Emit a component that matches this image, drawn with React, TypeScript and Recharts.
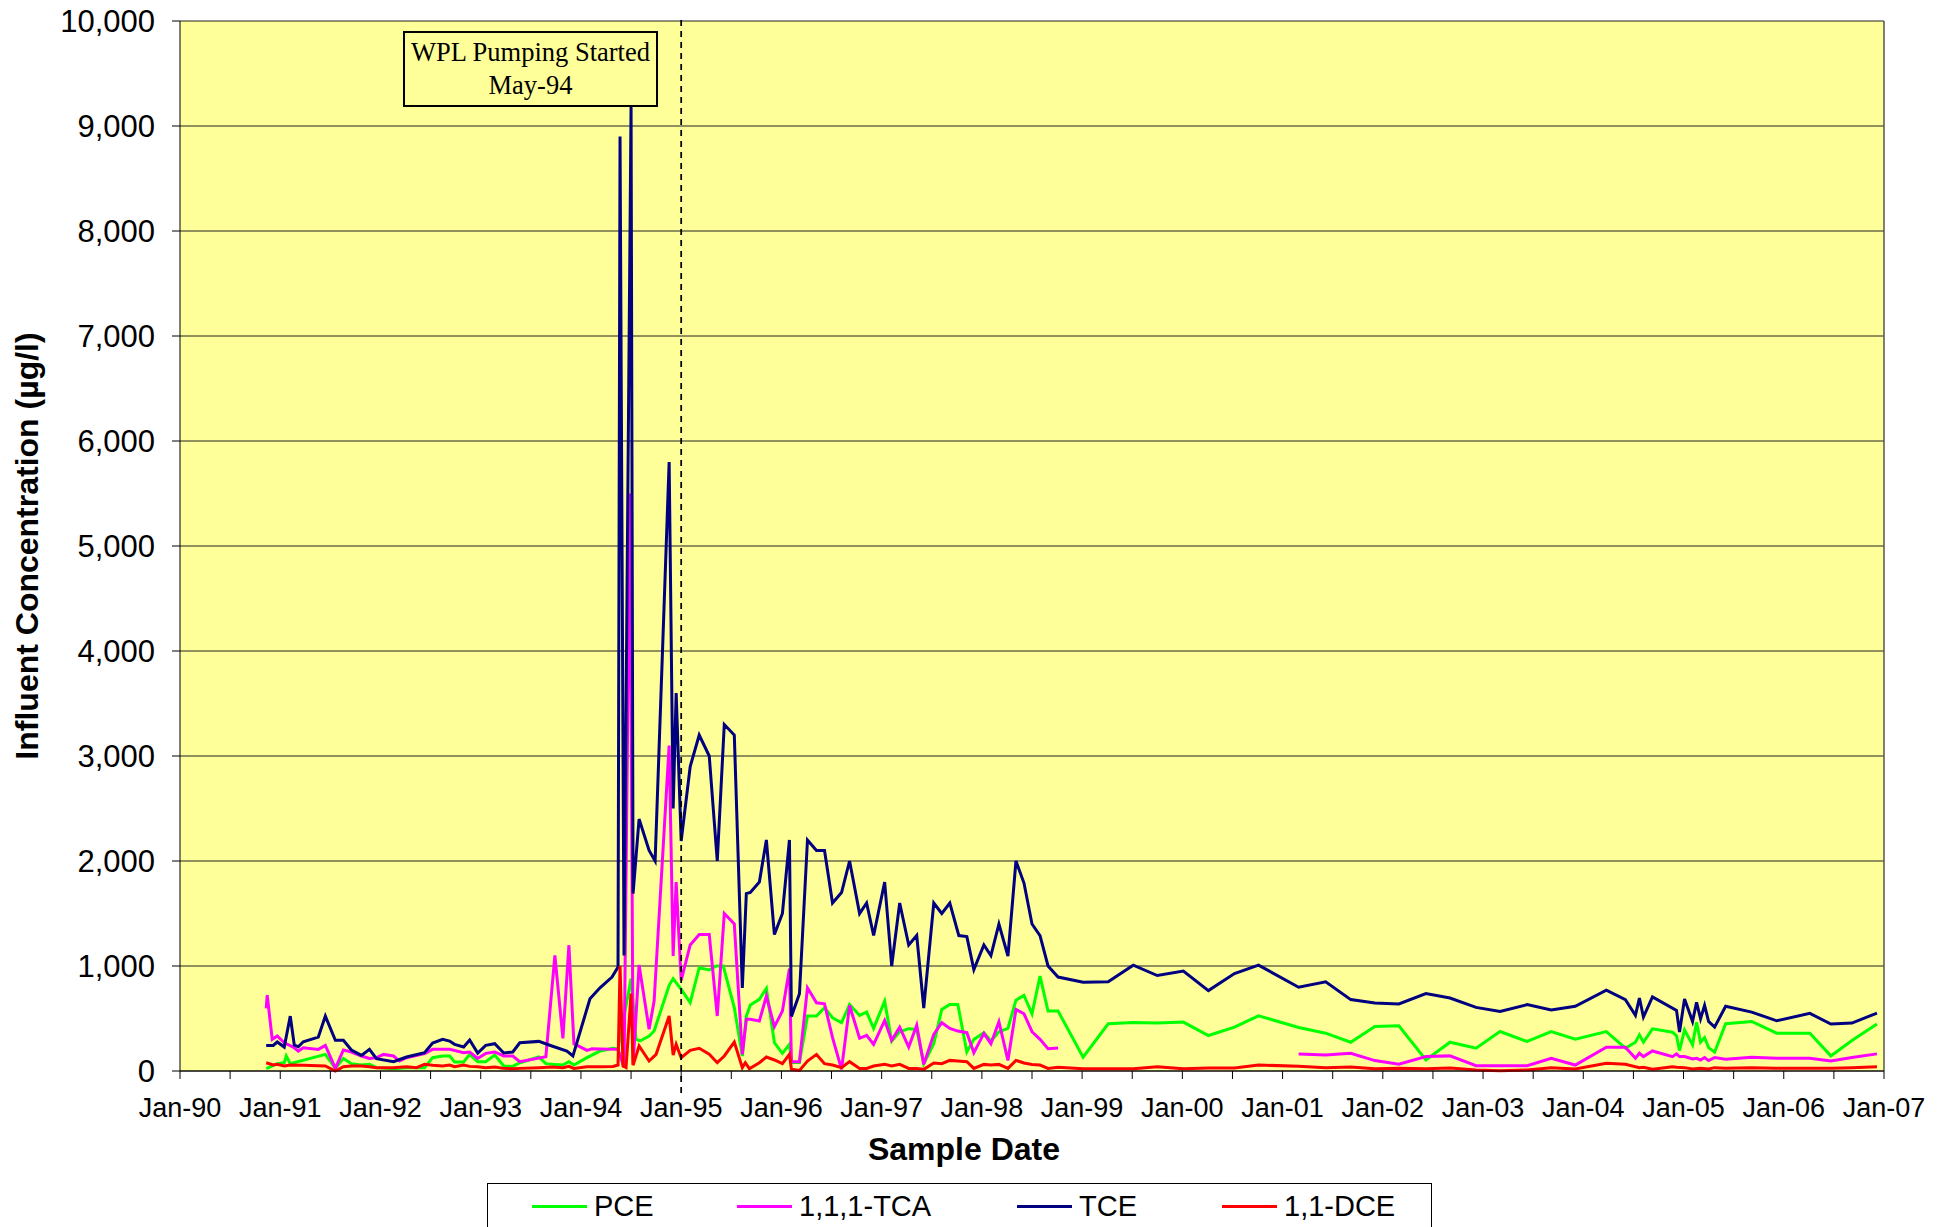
import React from 'react';
import { LineChart, Line, XAxis, YAxis, CartesianGrid, ReferenceLine, Label } from 'recharts';

// sample dates are decimal years, values in µg/l
const PCE: [number, number][] = [
  [1990.86, 22], [1990.97, 70], [1991.04, 79], [1991.06, 143], [1991.1, 70], [1991.45, 158],
  [1991.55, 25], [1991.63, 120], [1991.71, 70], [1991.81, 57], [1991.89, 63], [1991.96, 32],
  [1992.13, 22], [1992.26, 32], [1992.44, 32], [1992.52, 127], [1992.62, 143], [1992.69, 143],
  [1992.74, 86], [1992.83, 86], [1992.89, 158], [1992.97, 89], [1993.05, 89], [1993.14, 152],
  [1993.23, 48], [1993.32, 44], [1993.39, 79], [1993.58, 133], [1993.65, 70], [1993.74, 63],
  [1993.82, 57], [1993.88, 89], [1993.93, 57], [1994.06, 127], [1994.19, 190], [1994.32, 216],
  [1994.37, 210], [1994.5, 880], [1994.55, 300], [1994.59, 286], [1994.68, 333], [1994.73, 381],
  [1994.88, 816], [1994.92, 880], [1995.0, 778], [1995.09, 651], [1995.18, 984], [1995.28, 962],
  [1995.35, 1000], [1995.42, 1000], [1995.53, 603], [1995.61, 143], [1995.65, 524], [1995.69, 629],
  [1995.78, 683], [1995.85, 787], [1995.93, 270], [1996.01, 168], [1996.08, 254], [1996.1, 80],
  [1996.18, 80], [1996.26, 523], [1996.35, 523], [1996.43, 602], [1996.51, 507], [1996.6, 460],
  [1996.68, 634], [1996.78, 529], [1996.85, 561], [1996.92, 406], [1997.03, 666], [1997.1, 285],
  [1997.18, 374], [1997.27, 403], [1997.35, 396], [1997.42, 70], [1997.52, 260], [1997.6, 586],
  [1997.68, 634], [1997.76, 634], [1997.85, 181], [1997.92, 301], [1998.02, 365], [1998.09, 285],
  [1998.17, 374], [1998.26, 406], [1998.34, 675], [1998.42, 720], [1998.5, 545], [1998.58, 903],
  [1998.66, 571], [1998.76, 571], [1999.01, 131], [1999.26, 450], [1999.51, 463], [1999.75, 456],
  [2000.01, 466], [2000.26, 338], [2000.52, 418], [2000.76, 526], [2001.16, 415], [2001.43, 360],
  [2001.68, 274], [2001.92, 424], [2002.16, 431], [2002.43, 105], [2002.67, 274], [2002.93, 217],
  [2003.17, 376], [2003.44, 281], [2003.68, 376], [2003.92, 303], [2004.23, 376], [2004.42, 217],
  [2004.52, 274], [2004.56, 344], [2004.6, 274], [2004.69, 402], [2004.89, 370], [2004.93, 335],
  [2004.96, 195], [2005.01, 392], [2005.09, 249], [2005.13, 463], [2005.17, 274], [2005.21, 319],
  [2005.25, 223], [2005.31, 179], [2005.42, 450], [2005.68, 472], [2005.93, 360], [2006.26, 360],
  [2006.47, 144], [2006.68, 290], [2006.93, 447],
];

// null marks the break in sampling (late 1998 to early 2001)
const TCA: [number, number | null][] = [
  [1990.86, 596], [1990.87, 723], [1990.92, 301], [1990.97, 333], [1991.04, 269], [1991.13, 228],
  [1991.18, 190], [1991.23, 222], [1991.38, 206], [1991.45, 244], [1991.55, 25], [1991.63, 200],
  [1991.71, 181], [1991.81, 143], [1991.89, 120], [1991.96, 127], [1992.03, 158], [1992.13, 143],
  [1992.19, 95], [1992.26, 127], [1992.44, 165], [1992.52, 206], [1992.69, 206], [1992.83, 174],
  [1992.89, 181], [1992.97, 120], [1993.05, 168], [1993.14, 181], [1993.23, 143], [1993.32, 143],
  [1993.39, 89], [1993.65, 136], [1993.74, 1100], [1993.82, 311], [1993.88, 1198], [1993.93, 260],
  [1994.06, 197], [1994.11, 212], [1994.37, 206], [1994.43, 32], [1994.49, 5500], [1994.52, 63],
  [1994.58, 1010], [1994.68, 397], [1994.73, 667], [1994.88, 3100], [1994.92, 1095], [1994.95, 1800],
  [1995.0, 864], [1995.09, 1200], [1995.18, 1300], [1995.28, 1300], [1995.36, 524], [1995.43, 1500],
  [1995.53, 1400], [1995.61, 159], [1995.65, 492], [1995.69, 492], [1995.78, 476], [1995.85, 714],
  [1995.93, 422], [1996.01, 571], [1996.08, 975], [1996.1, 89], [1996.18, 89], [1996.26, 792],
  [1996.35, 650], [1996.43, 640], [1996.51, 317], [1996.6, 16], [1996.68, 624], [1996.78, 311],
  [1996.85, 339], [1996.92, 254], [1997.03, 482], [1997.1, 292], [1997.18, 418], [1997.27, 228],
  [1997.35, 437], [1997.42, 63], [1997.52, 349], [1997.6, 460], [1997.68, 406], [1997.76, 380],
  [1997.85, 365], [1997.92, 174], [1998.02, 358], [1998.09, 260], [1998.17, 469], [1998.26, 101],
  [1998.34, 586], [1998.42, 545], [1998.5, 374], [1998.58, 301], [1998.66, 212], [1998.76, 220],
  [1999.9, null],
  [2001.16, 163], [2001.43, 153], [2001.68, 169], [2001.92, 99], [2002.16, 64], [2002.43, 137],
  [2002.67, 144], [2002.93, 51], [2003.17, 51], [2003.44, 51], [2003.68, 121], [2003.92, 57],
  [2004.23, 226], [2004.42, 226], [2004.52, 121], [2004.56, 169], [2004.6, 137], [2004.69, 191],
  [2004.89, 137], [2004.93, 163], [2004.96, 137], [2005.01, 137], [2005.09, 115], [2005.13, 121],
  [2005.17, 105], [2005.21, 128], [2005.25, 99], [2005.31, 128], [2005.42, 112], [2005.68, 131],
  [2005.93, 121], [2006.26, 121], [2006.47, 96], [2006.68, 128], [2006.93, 163],
];

const TCE: [number, number][] = [
  [1990.86, 244], [1990.93, 244], [1990.97, 276], [1991.04, 228], [1991.1, 523], [1991.14, 247],
  [1991.18, 231], [1991.23, 279], [1991.38, 323], [1991.45, 523], [1991.55, 292], [1991.63, 292],
  [1991.71, 200], [1991.81, 149], [1991.89, 206], [1991.96, 117], [1992.13, 89], [1992.26, 133],
  [1992.44, 174], [1992.52, 266], [1992.62, 301], [1992.69, 285], [1992.74, 254], [1992.83, 228],
  [1992.89, 295], [1992.97, 171], [1993.05, 244], [1993.14, 260], [1993.23, 171], [1993.32, 181],
  [1993.39, 269], [1993.58, 282], [1993.71, 238], [1993.86, 190], [1993.92, 143], [1994.09, 688],
  [1994.19, 792], [1994.31, 894], [1994.37, 990], [1994.39, 8900], [1994.43, 1100], [1994.5, 9200],
  [1994.52, 1690], [1994.58, 2400], [1994.68, 2100], [1994.74, 2000], [1994.88, 5800], [1994.92, 2500],
  [1994.95, 3600], [1995.0, 2190], [1995.09, 2900], [1995.18, 3200], [1995.28, 3000], [1995.36, 2000],
  [1995.43, 3300], [1995.53, 3200], [1995.61, 790], [1995.65, 1690], [1995.69, 1700], [1995.78, 1800],
  [1995.85, 2200], [1995.93, 1300], [1996.01, 1500], [1996.08, 2200], [1996.1, 520], [1996.18, 735],
  [1996.26, 2200], [1996.35, 2100], [1996.43, 2100], [1996.51, 1600], [1996.6, 1700], [1996.68, 2000],
  [1996.78, 1500], [1996.85, 1600], [1996.92, 1290], [1997.03, 1800], [1997.1, 1000], [1997.18, 1600],
  [1997.27, 1200], [1997.35, 1290], [1997.42, 600], [1997.52, 1600], [1997.6, 1500], [1997.68, 1600],
  [1997.77, 1290], [1997.85, 1280], [1997.92, 965], [1998.02, 1200], [1998.09, 1100], [1998.17, 1400],
  [1998.26, 1095], [1998.34, 2000], [1998.42, 1790], [1998.5, 1400], [1998.58, 1290], [1998.66, 1000],
  [1998.76, 895], [1999.01, 845], [1999.26, 849], [1999.51, 1008], [1999.75, 909], [2000.01, 951],
  [2000.26, 766], [2000.52, 928], [2000.76, 1008], [2001.16, 798], [2001.43, 849], [2001.68, 680],
  [2001.92, 648], [2002.16, 638], [2002.43, 737], [2002.67, 695], [2002.93, 606], [2003.17, 568],
  [2003.44, 632], [2003.68, 581], [2003.92, 616], [2004.23, 769], [2004.42, 679], [2004.52, 530],
  [2004.56, 695], [2004.6, 514], [2004.69, 705], [2004.93, 577], [2004.96, 370], [2005.01, 686],
  [2005.09, 472], [2005.13, 654], [2005.17, 498], [2005.21, 625], [2005.25, 472], [2005.31, 418],
  [2005.42, 616], [2005.68, 561], [2005.93, 478], [2006.26, 549], [2006.47, 447], [2006.68, 456],
  [2006.93, 552],
];

const DCE: [number, number][] = [
  [1990.86, 79], [1990.93, 57], [1990.97, 63], [1991.04, 48], [1991.1, 57], [1991.23, 54],
  [1991.45, 48], [1991.55, 0], [1991.63, 41], [1991.71, 48], [1991.81, 48], [1991.89, 41],
  [1991.96, 32], [1992.13, 32], [1992.26, 41], [1992.36, 32], [1992.44, 63], [1992.52, 54],
  [1992.62, 48], [1992.69, 57], [1992.74, 41], [1992.83, 57], [1992.89, 44], [1992.97, 41],
  [1993.05, 32], [1993.14, 38], [1993.23, 25], [1993.32, 22], [1993.39, 25], [1993.58, 32],
  [1993.71, 38], [1993.82, 32], [1993.88, 44], [1993.93, 25], [1994.06, 41], [1994.19, 41],
  [1994.32, 44], [1994.37, 57], [1994.39, 1000], [1994.42, 48], [1994.45, 32], [1994.5, 737],
  [1994.52, 54], [1994.58, 238], [1994.68, 95], [1994.75, 159], [1994.88, 524], [1994.92, 152],
  [1994.95, 254], [1995.0, 127], [1995.09, 197], [1995.18, 216], [1995.28, 159], [1995.36, 79],
  [1995.43, 143], [1995.53, 276], [1995.61, 32], [1995.64, 79], [1995.68, 22], [1995.78, 79],
  [1995.85, 133], [1995.93, 105], [1996.01, 70], [1996.08, 159], [1996.1, 16], [1996.18, 6],
  [1996.26, 95], [1996.35, 158], [1996.43, 70], [1996.51, 57], [1996.6, 32], [1996.68, 89],
  [1996.78, 25], [1996.85, 25], [1996.92, 48], [1997.03, 63], [1997.1, 48], [1997.18, 63],
  [1997.27, 25], [1997.35, 25], [1997.42, 16], [1997.52, 76], [1997.6, 70], [1997.68, 101],
  [1997.76, 95], [1997.85, 89], [1997.92, 25], [1998.02, 63], [1998.09, 57], [1998.17, 63],
  [1998.26, 25], [1998.34, 101], [1998.42, 76], [1998.5, 63], [1998.58, 57], [1998.66, 25],
  [1998.76, 35], [1999.01, 22], [1999.26, 22], [1999.51, 22], [1999.75, 41], [2000.01, 22],
  [2000.26, 29], [2000.52, 29], [2000.76, 57], [2001.16, 45], [2001.43, 32], [2001.68, 38],
  [2001.92, 22], [2002.16, 26], [2002.43, 22], [2002.67, 29], [2002.93, 10], [2003.17, 3],
  [2003.44, 10], [2003.68, 32], [2003.92, 19], [2004.23, 73], [2004.42, 64], [2004.52, 41],
  [2004.56, 32], [2004.6, 35], [2004.69, 16], [2004.89, 41], [2004.93, 35], [2005.01, 32],
  [2005.09, 19], [2005.17, 26], [2005.25, 19], [2005.31, 32], [2005.42, 26], [2005.68, 32],
  [2005.93, 26], [2006.26, 26], [2006.47, 26], [2006.68, 32], [2006.93, 41],
];

const SERIES = [
  { name: 'PCE', color: '#00FF00', points: PCE },
  { name: '1,1,1-TCA', color: '#FF00FF', points: TCA },
  { name: 'TCE', color: '#000080', points: TCE },
  { name: '1,1-DCE', color: '#FF0000', points: DCE },
];

// half-year tick marks, labels on January only
const X_TICKS = Array.from({ length: 35 }, (_, i) => 1990 + i * 0.5);
const Y_TICKS = [0, 1000, 2000, 3000, 4000, 5000, 6000, 7000, 8000, 9000, 10000];
const PUMPING_START = 1995;

const FONT = '"Liberation Sans", Arial, Helvetica, sans-serif';
const PLOT_BG = '#FFFF99';

const toRows = (pts: [number, number | null][]) => pts.map(([x, y]) => ({ x, y }));

const XTick = (props: any) => {
  const { x, y, payload } = props;
  if (!Number.isInteger(payload.value)) return <g />;
  const yy = String(payload.value).slice(2);
  return (
    <text x={x} y={y + 29} textAnchor="middle" dominantBaseline="central" fontFamily={FONT} fontSize={27} fill="#000">
      {`Jan-${yy}`}
    </text>
  );
};

const YTitle = (props: any) => {
  const vb = props.viewBox || { y: 21, height: 1050 };
  const cy = vb.y + vb.height / 2;
  return (
    <text
      x={27}
      y={cy}
      transform={`rotate(-90 27 ${cy})`}
      textAnchor="middle"
      dominantBaseline="central"
      fontFamily={FONT}
      fontWeight="bold"
      fontSize={32}
      fill="#000"
    >
      Influent Concentration (µg/l)
    </text>
  );
};

const XTitle = () => (
  <text x={964} y={1149} textAnchor="middle" dominantBaseline="central" fontFamily={FONT} fontWeight="bold" fontSize={32} fill="#000">
    Sample Date
  </text>
);

const LEGEND_POS = [44, 249, 529, 734];

function ChartLegend() {
  return (
    <div
      style={{
        position: 'absolute',
        left: 487,
        top: 1183,
        width: 945,
        height: 60,
        border: '1.5px solid #000',
        boxSizing: 'border-box',
        background: '#fff',
        fontFamily: FONT,
        fontSize: 29,
      }}
    >
      {SERIES.map((s, i) => (
        <div key={s.name} style={{ position: 'absolute', left: LEGEND_POS[i], top: 4, height: 36, display: 'flex', alignItems: 'center' }}>
          <span style={{ display: 'inline-block', width: 55, height: 3, background: s.color, marginRight: 7 }} />
          <span style={{ lineHeight: '36px' }}>{s.name}</span>
        </div>
      ))}
    </div>
  );
}

export default function App() {
  return (
    <div style={{ position: 'absolute', left: 0, top: 0, width: 1950, height: 1227, overflow: 'hidden', background: '#fff' }}>
      <LineChart width={1950} height={1227} margin={{ top: 21, right: 66, bottom: 0, left: 0 }}>
        <CartesianGrid vertical={false} stroke="#222" strokeWidth={1} fill={PLOT_BG} fillOpacity={1} />
        <XAxis
          dataKey="x"
          type="number"
          domain={[1990, 2007]}
          ticks={X_TICKS}
          interval={0}
          height={156}
          tickSize={8}
          tickMargin={0}
          tick={<XTick />}
          stroke="#000"
          allowDuplicatedCategory={false}
        >
          <Label content={<XTitle />} />
        </XAxis>
        <YAxis
          type="number"
          domain={[0, 10000]}
          ticks={Y_TICKS}
          interval={0}
          width={180}
          tickSize={8}
          tickMargin={17}
          stroke="#000"
          tick={{ fontFamily: FONT, fontSize: 31, fill: '#000' }}
          tickFormatter={(v: number) => v.toLocaleString('en-US')}
        >
          <Label content={<YTitle />} />
        </YAxis>
        <ReferenceLine x={2007} stroke="#555" strokeWidth={1.5} />
        {SERIES.map((s) => (
          <Line
            key={s.name}
            data={toRows(s.points)}
            dataKey="y"
            name={s.name}
            type="linear"
            stroke={s.color}
            strokeWidth={3}
            dot={false}
            activeDot={false}
            connectNulls={false}
            isAnimationActive={false}
          />
        ))}
        <ReferenceLine
          segment={[
            { x: PUMPING_START, y: -210 },
            { x: PUMPING_START, y: 10050 },
          ]}
          ifOverflow="visible"
          stroke="#000"
          strokeWidth={1.75}
          strokeDasharray="6 5"
        />
      </LineChart>
      <div
        style={{
          position: 'absolute',
          left: 403,
          top: 31,
          width: 255,
          height: 76,
          boxSizing: 'border-box',
          border: '2px solid #000',
          background: PLOT_BG,
          fontFamily: '"Liberation Serif", "Times New Roman", serif',
          fontSize: 26.5,
          lineHeight: '33px',
          textAlign: 'center',
          paddingTop: 3,
        }}
      >
        WPL Pumping Started
        <br />
        May-94
      </div>
      <ChartLegend />
    </div>
  );
}
